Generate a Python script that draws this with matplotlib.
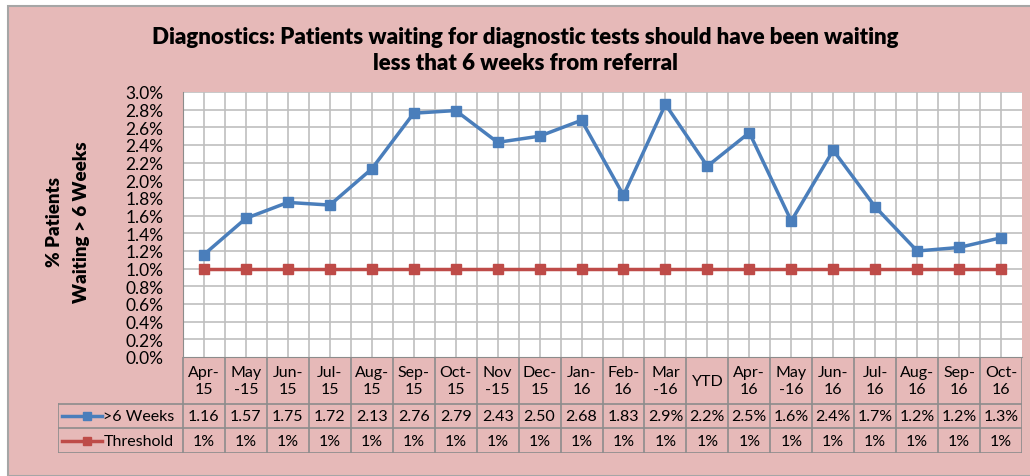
import matplotlib
matplotlib.use('Agg')
import matplotlib.pyplot as plt
from matplotlib.ticker import PercentFormatter, MultipleLocator

# chart data
months = ['Apr-\n15', 'May\n-15', 'Jun-\n15', 'Jul-\n15', 'Aug-\n15', 'Sep-\n15', 'Oct-\n15',
          'Nov\n-15', 'Dec-\n15', 'Jan-\n16', 'Feb-\n16', 'Mar\n-16', 'YTD', 'Apr-\n16',
          'May\n-16', 'Jun-\n16', 'Jul-\n16', 'Aug-\n16', 'Sep-\n16', 'Oct-\n16']
weeks6 = [1.16, 1.57, 1.75, 1.72, 2.13, 2.76, 2.79, 2.43, 2.50, 2.68, 1.83,
          2.86, 2.16, 2.54, 1.54, 2.34, 1.70, 1.20, 1.24, 1.35]
threshold = [1.0] * 20
weeks6_labels = ['1.16', '1.57', '1.75', '1.72', '2.13', '2.76', '2.79', '2.43', '2.50', '2.68',
                 '1.83', '2.9%', '2.2%', '2.5%', '1.6%', '2.4%', '1.7%', '1.2%', '1.2%', '1.3%']
threshold_labels = ['1%'] * 20
series_names = ['>6 Weeks', 'Threshold']

W, H = 1030, 477
pink = '#E6B9B8'
blue = '#4A7EBB'
red = '#BE4B48'
grid = '#BFBFBF'
edge = '#8C8C8C'
plt.rcParams['font.family'] = ['Lato', 'DejaVu Sans']


def box(x0, y0, x1, y1):
    # pixel box (top-left origin) -> figure fraction rect
    return [x0 / W, 1 - y1 / H, (x1 - x0) / W, (y1 - y0) / H]


fig = plt.figure(figsize=(W / 100, H / 100), dpi=100)
fig.patch.set_facecolor('white')
fig.patches.append(plt.Rectangle((8 / W, 0), 1, 1 - 7 / H, transform=fig.transFigure,
                                 facecolor=pink, edgecolor='#A6A6A6', linewidth=1.5, zorder=-5))

fig.text(525 / W, 1 - 38 / H, 'Diagnostics: Patients waiting for diagnostic tests should have been waiting',
         ha='center', va='center', fontsize=16, fontweight='heavy')
fig.text(525 / W, 1 - 63 / H, 'less that 6 weeks from referral',
         ha='center', va='center', fontsize=16, fontweight='heavy')

n = len(months)
x = list(range(n))
L, R, T, B = 183, 1022, 93, 358

ax = fig.add_axes(box(L, T, R, B))
ax.set_facecolor('white')
ax.plot(x, weeks6, color=blue, lw=2.5, marker='s', markersize=7, zorder=3)
ax.plot(x, threshold, color=red, lw=2.5, marker='s', markersize=7, zorder=3)
ax.set_xlim(-0.5, n - 0.5)
ax.set_ylim(0, 3.0)
ax.yaxis.set_major_locator(MultipleLocator(0.2))
ax.yaxis.set_major_formatter(PercentFormatter(decimals=1))
for yv in [i * 0.2 for i in range(1, 16)]:
    ax.axhline(yv, color=grid, lw=1.2, zorder=1)
for xv in [i * 0.5 - 0.5 for i in range(1, 2 * n)]:
    ax.axvline(xv, color=grid, lw=1.2, zorder=1)
ax.set_xticks([])
ax.tick_params(axis='y', length=0, pad=14, labelsize=12.5)
for s in ax.spines.values():
    s.set_color(edge)
ax.spines['top'].set_visible(False)
ax.spines['right'].set_visible(False)

fig.text(68 / W, 1 - 222 / H, '% Patients\nWaiting > 6 Weeks', rotation=90,
         ha='center', va='center', fontsize=13.5, fontweight='heavy', linespacing=1.75)

# data table under the plot
TL, TB = 58, 454
cw = (R - L) / n
head = (L - TL) / cw
tab = fig.add_axes(box(TL, B, R, TB))
tab.set_xlim(-0.5 - head, n - 0.5)
tab.set_ylim(TB - B, 0)
tab.axis('off')
r1, r2, r3 = 47, 71, 96
for i in range(n + 1):
    tab.plot([i - 0.5, i - 0.5], [0, r3], color=edge, lw=1.2)
tab.plot([-0.5 - head, -0.5 - head], [r1, r3], color=edge, lw=1.2)
for yv in [r1, r2, r3]:
    tab.plot([-0.5 - head, n - 0.5], [yv, yv], color=edge, lw=1.2)
for i in range(n):
    tab.text(i, r1 / 2, months[i], ha='center', va='center', fontsize=11.5, linespacing=1.25)
    tab.text(i, (r1 + r2) / 2, weeks6_labels[i], ha='center', va='center', fontsize=11.5)
    tab.text(i, (r2 + r3) / 2, threshold_labels[i], ha='center', va='center', fontsize=11.5)
for yc, col, name in [((r1 + r2) / 2, blue, series_names[0]), ((r2 + r3) / 2, red, series_names[1])]:
    x0 = -0.5 - head + 0.1
    tab.plot([x0, x0 + 0.95], [yc, yc], color=col, lw=2.5)
    tab.plot([x0 + 0.6], [yc], color=col, marker='s', markersize=6)
    tab.text(x0 + 0.98, yc, name, ha='left', va='center', fontsize=11.5)

fig.savefig('out.png', dpi=100, facecolor=fig.get_facecolor())
